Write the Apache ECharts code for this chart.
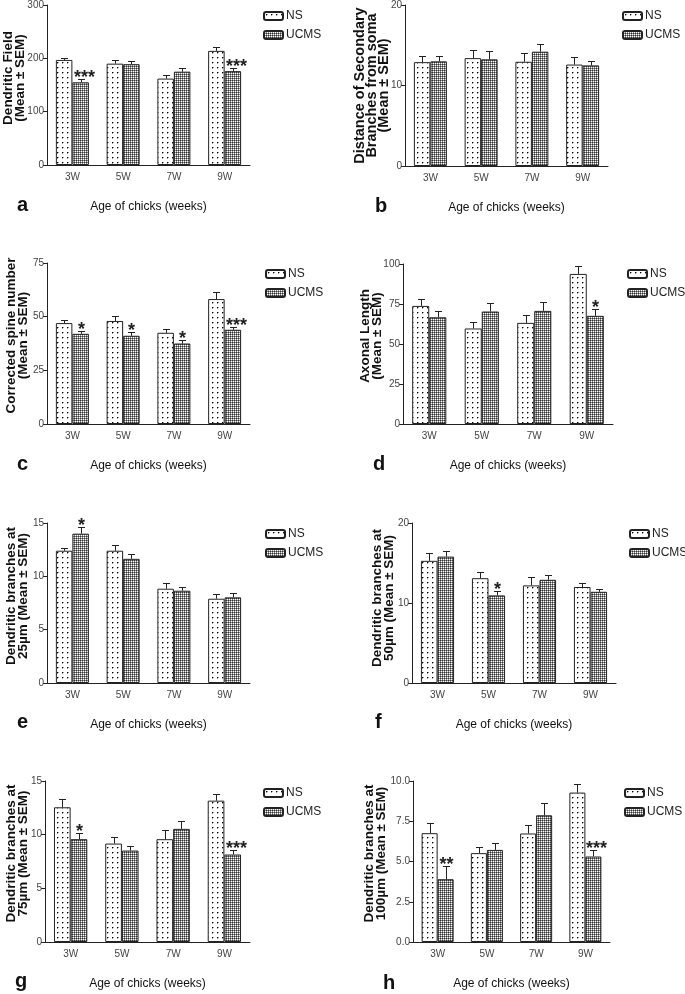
<!DOCTYPE html>
<html>
<head>
<meta charset="utf-8">
<script src="https://cdn.jsdelivr.net/npm/echarts@6/dist/echarts.min.js"></script>
<style>
  html, body { margin: 0; padding: 0; background: #fff; }
  #chart { width: 685px; height: 994px; }
</style>
</head>
<body>
<div id="chart"></div>
<script>
const weeks = ['3W', '5W', '7W', '9W'];
const groups = ['NS', 'UCMS'];

// a - dendritic field
const fieldNS = [197, 190, 162, 214];
const fieldNSSem = [4, 6, 6, 7];
const fieldUCMS = [155, 189, 175, 176];
const fieldUCMSSem = [7, 6, 7, 5];
const fieldStars = ['***', '', '', '***'];

// b - distance of secondary branches
const distNS = [12.9, 13.4, 12.95, 12.6];
const distNSSem = [0.8, 1.0, 1.1, 0.9];
const distUCMS = [13.0, 13.25, 14.2, 12.5];
const distUCMSSem = [0.7, 1.05, 1.0, 0.6];
const distStars = ['', '', '', ''];

// c - corrected spine number
const spineNS = [47, 48, 42.5, 58.2];
const spineNSSem = [1.5, 2.4, 1.8, 3.1];
const spineUCMS = [42, 41.1, 37.5, 43.9];
const spineUCMSSem = [1.4, 1.8, 1.7, 1.5];
const spineStars = ['*', '*', '*', '***'];

// d - axonal length
const axonNS = [73.8, 59.7, 63.2, 93.8];
const axonNSSem = [4.6, 4.1, 5.0, 4.7];
const axonUCMS = [66.7, 70.3, 70.7, 67.6];
const axonUCMSSem = [4.0, 5.6, 5.6, 4.1];
const axonStars = ['', '', '', '*'];

// e - branches at 25um
const b25NS = [12.4, 12.4, 8.84, 7.9];
const b25NSSem = [0.3, 0.55, 0.56, 0.4];
const b25UCMS = [14.0, 11.64, 8.65, 8.03];
const b25UCMSSem = [0.66, 0.46, 0.35, 0.44];
const b25Stars = ['*', '', '', ''];

// f - branches at 50um
const b50NS = [15.27, 13.1, 12.2, 12.0];
const b50NSSem = [0.93, 0.8, 1.0, 0.5];
const b50UCMS = [15.8, 10.95, 12.9, 11.4];
const b50UCMSSem = [0.75, 0.5, 0.6, 0.4];
const b50Stars = ['', '*', '', ''];

// g - branches at 75um
const b75NS = [12.55, 9.17, 9.58, 13.17];
const b75NSSem = [0.8, 0.6, 0.86, 0.6];
const b75UCMS = [9.58, 8.52, 10.54, 8.15];
const b75UCMSSem = [0.58, 0.4, 0.74, 0.4];
const b75Stars = ['*', '', '', '***'];

// h - branches at 100um
const b100NS = [6.76, 5.52, 6.74, 9.28];
const b100NSSem = [0.62, 0.39, 0.51, 0.53];
const b100UCMS = [3.9, 5.72, 7.87, 5.31];
const b100UCMSSem = [0.81, 0.4, 0.75, 0.39];
const b100Stars = ['**', '', '', '***'];

const panels = [
  {letter: 'a', name: 'Dendritic Field\n(Mean ± SEM)', max: 300, interval: 100, ns: fieldNS, nsSem: fieldNSSem, uc: fieldUCMS, ucSem: fieldUCMSSem, stars: fieldStars},
  {letter: 'b', name: 'Distance of Secondary\nBranches from soma\n(Mean ± SEM)', max: 20, interval: 10, ns: distNS, nsSem: distNSSem, uc: distUCMS, ucSem: distUCMSSem, stars: distStars},
  {letter: 'c', name: 'Corrected spine number\n(Mean ± SEM)', max: 75, interval: 25, ns: spineNS, nsSem: spineNSSem, uc: spineUCMS, ucSem: spineUCMSSem, stars: spineStars},
  {letter: 'd', name: 'Axonal Length\n(Mean ± SEM)', max: 100, interval: 25, ns: axonNS, nsSem: axonNSSem, uc: axonUCMS, ucSem: axonUCMSSem, stars: axonStars},
  {letter: 'e', name: 'Dendritic branches at\n25µm (Mean ± SEM)', max: 15, interval: 5, ns: b25NS, nsSem: b25NSSem, uc: b25UCMS, ucSem: b25UCMSSem, stars: b25Stars},
  {letter: 'f', name: 'Dendritic branches at\n50µm (Mean ± SEM)', max: 20, interval: 10, ns: b50NS, nsSem: b50NSSem, uc: b50UCMS, ucSem: b50UCMSSem, stars: b50Stars},
  {letter: 'g', name: 'Dendritic branches at\n75µm (Mean ± SEM)', max: 15, interval: 5, ns: b75NS, nsSem: b75NSSem, uc: b75UCMS, ucSem: b75UCMSSem, stars: b75Stars},
  {letter: 'h', name: 'Dendritic branches at\n100µm (Mean ± SEM)', max: 10, interval: 2.5, ns: b100NS, nsSem: b100NSSem, uc: b100UCMS, ucSem: b100UCMSSem, stars: b100Stars, decimals: 1}
];

// positions: grid [left, top, width, height], legend [left, top], letter [left, top]
const layout = [
  {grid: [47, 5, 203, 160], legend: [263, 9], letter: [17, 195], nameGap: 21, shift: 14, nameSize: 13.5},
  {grid: [405, 5, 203, 161], legend: [622, 9], letter: [375, 196], nameGap: 15, shift: 0, nameSize: 14.5},
  {grid: [47, 263, 203, 161], legend: [265, 267], letter: [17, 454], nameGap: 18, shift: 16, nameSize: 13.5},
  {grid: [403, 264, 210, 160], legend: [627, 267], letter: [373, 454], nameGap: 20, shift: 16, nameSize: 13.5},
  {grid: [47, 523, 203, 160], legend: [265, 527], letter: [17, 712], nameGap: 18, shift: 14, nameSize: 13.5},
  {grid: [412, 523, 204, 160], legend: [629, 527], letter: [375, 712], nameGap: 17, shift: 10, nameSize: 13.5},
  {grid: [45, 781, 205, 161], legend: [263, 786], letter: [15, 971], nameGap: 16, shift: 16, nameSize: 13.5},
  {grid: [413, 781, 197, 161], legend: [624, 786], letter: [383, 973], nameGap: 26, shift: 16, nameSize: 13.5}
];

const sans = '"Liberation Sans", Arial, sans-serif';

function makePattern(size, draw) {
  const c = document.createElement('canvas');
  c.width = size; c.height = size;
  const ctx = c.getContext('2d');
  ctx.fillStyle = '#fff';
  ctx.fillRect(0, 0, size, size);
  draw(ctx);
  return c;
}
const dotCanvas = makePattern(5, ctx => {
  ctx.fillStyle = '#000';
  ctx.fillRect(2, 2, 1, 1);
  ctx.fillStyle = '#999';
  ctx.fillRect(3, 2, 1, 1);
  ctx.fillRect(2, 3, 1, 1);
});
const gridCanvas = makePattern(2, ctx => {
  ctx.fillStyle = '#333';
  ctx.fillRect(0, 0, 1, 1);
  ctx.fillStyle = '#888';
  ctx.fillRect(1, 0, 1, 1);
  ctx.fillRect(0, 1, 1, 1);
});
const nsFill = {image: dotCanvas, repeat: 'repeat'};
const ucFill = {image: gridCanvas, repeat: 'repeat'};

function errorBars(side, stars) {
  return function (params, api) {
    const i = api.value(0);
    const mean = api.value(1);
    const sem = api.value(2);
    const band = api.size([1, 0])[0];
    const bw = band * 0.65 / 2;
    const base = api.coord([i, mean]);
    const top = api.coord([i, mean + sem]);
    const x = Math.round(base[0] + side * bw / 2) + 0.5;
    const yt = Math.round(top[1]) + 0.5;
    const children = [
      {type: 'line', shape: {x1: x, y1: base[1], x2: x, y2: yt}, style: {stroke: '#222', lineWidth: 1}},
      {type: 'line', shape: {x1: x - 3.5, y1: yt, x2: x + 3.5, y2: yt}, style: {stroke: '#222', lineWidth: 1}}
    ];
    const s = stars ? stars[params.dataIndex] : '';
    if (s) {
      children.push({
        type: 'text', x: x + (s.length > 2 ? 3 : 0), y: yt - 1,
        style: {text: s, align: 'center', verticalAlign: 'middle', fill: '#222', font: 'bold 18px ' + sans}
      });
    }
    return {type: 'group', children: children};
  };
}

const grids = [], xAxes = [], yAxes = [], series = [], legends = [], titles = [];

panels.forEach((p, k) => {
  const L = layout[k];
  grids.push({left: L.grid[0], top: L.grid[1], width: L.grid[2], height: L.grid[3]});
  xAxes.push({
    gridIndex: k, type: 'category', data: weeks,
    name: 'Age of chicks (weeks)', nameLocation: 'middle', nameGap: 36,
    nameTextStyle: {fontFamily: sans, fontSize: 12, color: '#111'},
    axisLine: {lineStyle: {color: '#222', width: 1}},
    axisTick: {show: false},
    axisLabel: {fontFamily: sans, fontSize: 10, color: '#444', margin: 7}
  });
  yAxes.push({
    gridIndex: k, type: 'value', min: 0, max: p.max, interval: p.interval,
    name: p.name, nameLocation: 'middle', nameRotate: 90, nameGap: L.nameGap,
    nameMoveOverlap: false,
    nameTextStyle: {fontFamily: sans, fontWeight: 'bold', fontSize: L.nameSize, lineHeight: 12, color: '#111', padding: [0, 0, 0, L.shift]},
    axisLine: {show: true, lineStyle: {color: '#222', width: 1}},
    axisTick: {show: true, length: 4, lineStyle: {color: '#222'}},
    splitLine: {show: false},
    axisLabel: {
      fontFamily: sans, fontSize: 10, color: '#444', margin: 3,
      formatter: v => p.decimals ? v.toFixed(p.decimals) : String(v)
    }
  });
  series.push(
    {
      name: 'NS', type: 'bar', xAxisIndex: k, yAxisIndex: k, data: p.ns,
      barGap: '0%', barCategoryGap: '35%',
      itemStyle: {color: nsFill, borderColor: '#222', borderWidth: 1}
    },
    {
      name: 'UCMS', type: 'bar', xAxisIndex: k, yAxisIndex: k, data: p.uc,
      barGap: '0%', barCategoryGap: '35%',
      itemStyle: {color: ucFill, borderColor: '#222', borderWidth: 1}
    },
    {
      type: 'custom', xAxisIndex: k, yAxisIndex: k, z: 5,
      data: p.ns.map((v, i) => [i, v, p.nsSem[i]]),
      renderItem: errorBars(-1, null)
    },
    {
      type: 'custom', xAxisIndex: k, yAxisIndex: k, z: 5,
      data: p.uc.map((v, i) => [i, v, p.ucSem[i]]),
      renderItem: errorBars(1, p.stars)
    }
  );
  legends.push({
    data: groups, orient: 'vertical', left: L.legend[0], top: L.legend[1],
    itemWidth: 19, itemHeight: 8, itemGap: 5, padding: 0,
    textStyle: {fontFamily: sans, fontSize: 12, color: '#222', lineHeight: 14, padding: [0, 0, 0, -2]}
  });
  titles.push({
    text: p.letter, left: L.letter[0], top: L.letter[1], padding: 0,
    textStyle: {fontFamily: sans, fontWeight: 'bold', fontSize: 20, color: '#111'}
  });
});

const chart = echarts.init(document.getElementById('chart'), null, {renderer: 'canvas'});
chart.setOption({
  backgroundColor: '#fff',
  animation: false,
  title: titles,
  legend: legends,
  grid: grids,
  xAxis: xAxes,
  yAxis: yAxes,
  series: series
});
</script>
</body>
</html>
